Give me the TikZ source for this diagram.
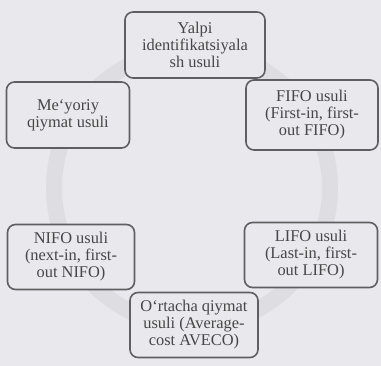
\documentclass[tikz,border=0pt]{standalone}
\usepackage{fontspec}
\setmainfont{Liberation Serif}
\usepackage{xcolor}
\definecolor{paper}{RGB}{233,233,237}
\definecolor{ringgray}{RGB}{221,221,226}
\definecolor{boxline}{RGB}{95,95,98}
\definecolor{inkgray}{RGB}{70,70,72}

\begin{document}
\begin{tikzpicture}[x=1pt,y=-1pt,
    % styles for clarity
    method/.style ={draw=boxline, line width=1.6pt, rounded corners=8pt,
                    fill=paper, text=inkgray, align=center, inner sep=1pt,
                    font=\fontsize{16.4}{17}\selectfont},
    ring/.style   ={draw=ringgray, line width=16pt}
  ]
    \fill[paper] (0,0) rectangle (381,366);
    \useasboundingbox (0,0) rectangle (381,366);
    \coordinate (c) at (192,188);
    \draw[ring] (c) circle[radius=138];

    \node[method, minimum width=140, minimum height=66](yalpi) at (195,45)
      {Yalpi\\identifikatsiyala\\sh usuli};
    \node[method, minimum width=132, minimum height=70](fifo) at (312,115)
      {FIFO usuli\\(First-in, first-\\out FIFO)};
    \node[method, minimum width=123, minimum height=66](meyor) at (68,115)
      {Me`yoriy\\qiymat usuli};
    \node[method, minimum width=127, minimum height=65](nifo) at (71,257)
      {NIFO usuli\\(next-in, first-\\out NIFO)};
    \node[method, minimum width=133, minimum height=65](lifo) at (311,255)
      {LIFO usuli\\(Last-in, first-\\out LIFO)};
    \node[method, minimum width=128, minimum height=65](ortacha) at (194,325)
      {O`rtacha qiymat\\usuli (Average-\\cost AVECO)};
  \end{tikzpicture}
\end{document}
